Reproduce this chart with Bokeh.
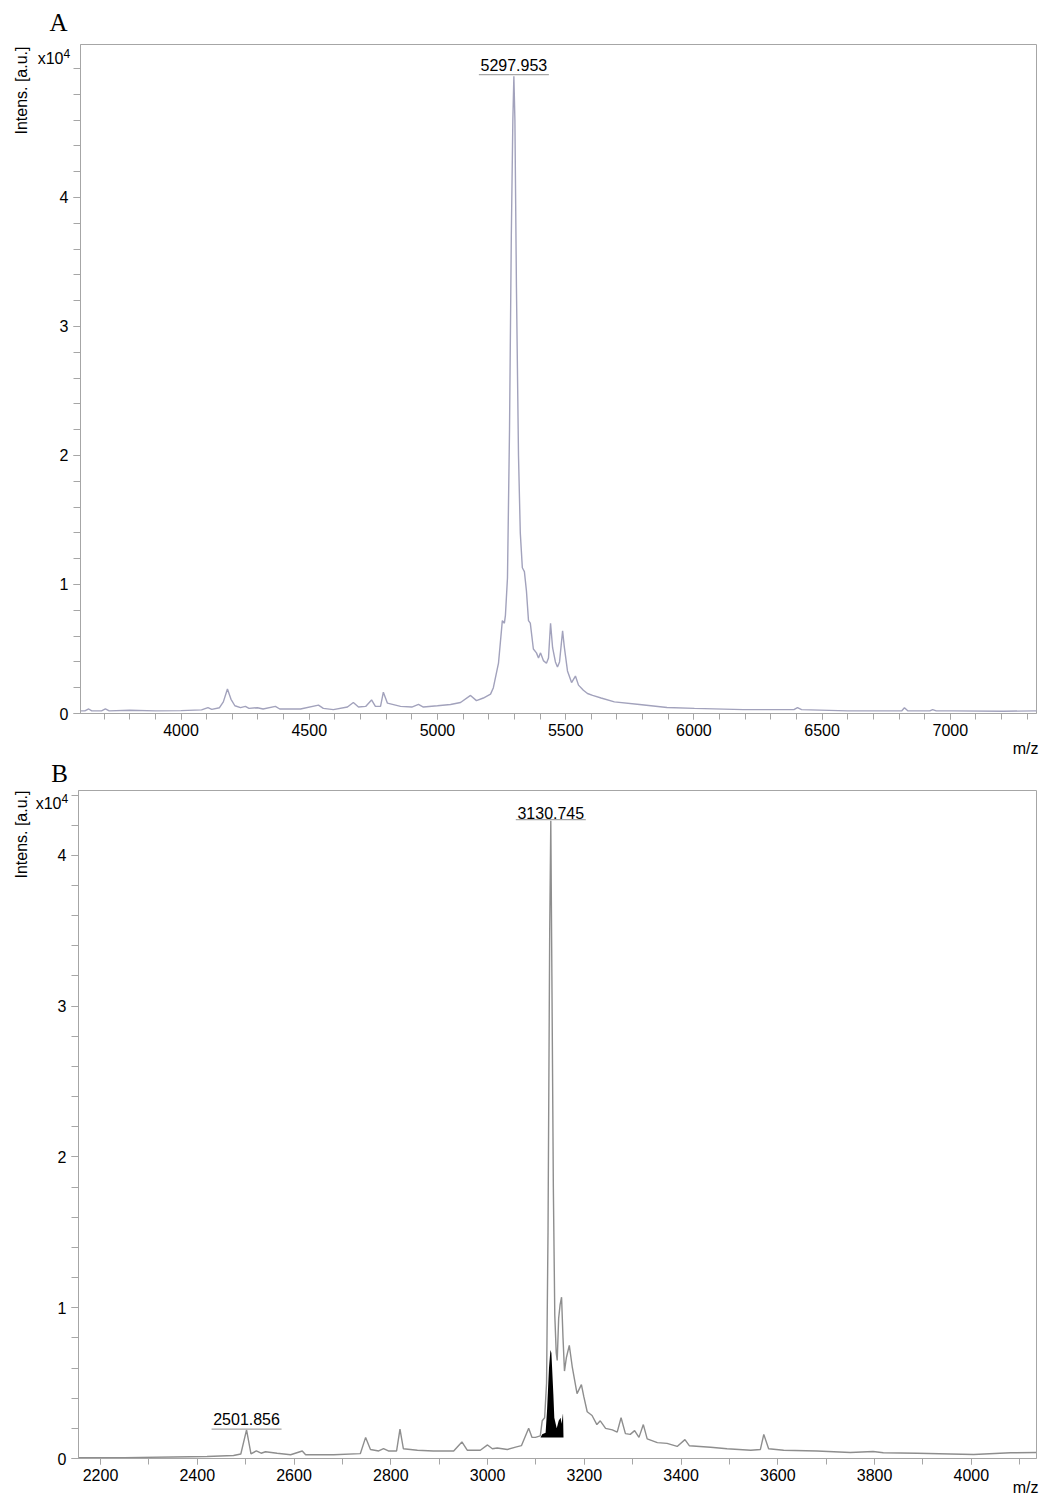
import math
from bokeh.plotting import figure
from bokeh.models import Label, FixedTicker, Range1d, LinearAxis
from bokeh.layouts import column
from bokeh.embed import file_html
from bokeh.resources import INLINE

# ---------------- data: panel A (intensity in units of 1e4) ----------------
a_mz = [3608, 3625, 3640, 3652, 3690, 3705, 3720, 3800, 3900, 4000, 4080, 4105, 4120,
        4150, 4165, 4181, 4195, 4210, 4232, 4251, 4265, 4298, 4320, 4368, 4385, 4466,
        4536, 4555, 4594, 4649, 4672, 4692, 4720, 4743, 4758, 4778, 4789, 4805, 4856,
        4900, 4926, 4945, 5000, 5051, 5090, 5129, 5152, 5179, 5207, 5218, 5238, 5253,
        5261, 5265, 5273, 5281, 5288, 5294, 5297.953, 5302, 5308, 5316, 5323, 5331,
        5339, 5347, 5355, 5362, 5374, 5386, 5394, 5402, 5413, 5425, 5433, 5441, 5449,
        5460, 5468, 5476, 5488, 5495, 5507, 5523, 5538, 5550, 5569, 5585, 5605, 5638,
        5690, 5788, 5895, 6002, 6193, 6390, 6404, 6420, 6599, 6810, 6821, 6835, 6920,
        6931, 6945, 7005, 7207, 7336]
a_int = [0.02, 0.02, 0.035, 0.02, 0.02, 0.035, 0.02, 0.025, 0.02, 0.022, 0.028, 0.045, 0.032,
         0.045, 0.09, 0.19, 0.11, 0.06, 0.045, 0.055, 0.04, 0.045, 0.035, 0.055, 0.035, 0.035,
         0.065, 0.04, 0.03, 0.05, 0.085, 0.05, 0.055, 0.105, 0.055, 0.055, 0.165, 0.08, 0.055,
         0.05, 0.07, 0.05, 0.06, 0.07, 0.085, 0.14, 0.10, 0.12, 0.15, 0.2, 0.39, 0.72,
         0.70, 0.76, 1.05, 2.2, 3.7, 4.6, 4.94, 4.6, 3.3, 2.0, 1.4, 1.13,
         1.1, 0.95, 0.72, 0.70, 0.50, 0.47, 0.43, 0.47, 0.41, 0.39, 0.43, 0.70, 0.51,
         0.40, 0.36, 0.40, 0.64, 0.51, 0.33, 0.24, 0.29, 0.22, 0.18, 0.155, 0.14, 0.12,
         0.09, 0.07, 0.047, 0.04, 0.03, 0.03, 0.045, 0.03, 0.02, 0.02, 0.045, 0.02, 0.02,
         0.03, 0.02, 0.02, 0.018, 0.02]
a_peak_mz = [5297.953]
a_peak_int = [4.94]
a_peak_text = ["5297.953"]
a_x_major = [4000, 4500, 5000, 5500, 6000, 6500, 7000]
a_y_major = [0, 1, 2, 3, 4]

# ---------------- data: panel B ----------------
b_mz = [2155, 2250, 2350, 2420, 2475, 2490, 2501.856, 2511, 2522, 2532, 2541, 2565, 2593,
        2617, 2624, 2682, 2737, 2748, 2758, 2775, 2785, 2795, 2812, 2819, 2826, 2855, 2888,
        2930, 2947, 2958, 2985, 3000, 3010, 3020, 3041, 3058, 3070, 3085, 3092, 3099, 3109,
        3113, 3118, 3122, 3125, 3128.5, 3130.745, 3133, 3136, 3139, 3142, 3144, 3147, 3150,
        3153, 3156, 3159, 3163, 3169, 3175, 3185, 3194, 3199, 3206, 3216, 3226, 3233, 3244,
        3258, 3268, 3276, 3285, 3295, 3304, 3313, 3322, 3330, 3351, 3371, 3392, 3408, 3417,
        3461, 3495, 3544, 3564, 3571, 3581, 3612, 3681, 3750, 3797, 3818, 3888, 3957, 4005,
        4081, 4134]
b_int = [0.005, 0.006, 0.01, 0.013, 0.02, 0.03, 0.19, 0.03, 0.05, 0.035, 0.045, 0.035, 0.025,
         0.05, 0.025, 0.025, 0.032, 0.14, 0.06, 0.05, 0.065, 0.05, 0.05, 0.195, 0.065, 0.055, 0.05,
         0.05, 0.11, 0.055, 0.055, 0.09, 0.065, 0.07, 0.06, 0.075, 0.085, 0.20, 0.14, 0.14, 0.15,
         0.25, 0.27, 0.5, 1.5, 3.5, 4.23, 3.2, 1.8, 0.95, 0.7, 0.65, 0.93, 1.02,
         1.07, 0.8, 0.58, 0.67, 0.75, 0.61, 0.43, 0.49, 0.41, 0.31, 0.285, 0.225, 0.25, 0.2,
         0.19, 0.175, 0.27, 0.165, 0.16, 0.185, 0.14, 0.225, 0.13, 0.105, 0.1, 0.08, 0.125, 0.085,
         0.075, 0.065, 0.055, 0.06, 0.16, 0.065, 0.055, 0.05, 0.04, 0.046, 0.038, 0.035, 0.03, 0.027,
         0.038, 0.04]
# highlighted (black) area of the selected peak
b_fill_mz = [3109.5, 3113, 3120, 3123, 3127, 3130, 3132, 3136, 3138, 3143, 3147, 3151, 3153, 3156, 3157]
b_fill_top = [0.14, 0.16, 0.17, 0.32, 0.6, 0.72, 0.70, 0.43, 0.27, 0.20, 0.25, 0.27, 0.23, 0.30, 0.14]
b_fill_base = 0.14
b_peak_mz = [3130.745, 2501.856]
b_peak_int = [4.23, 0.19]
b_peak_text = ["3130.745", "2501.856"]
b_x_major = [2200, 2400, 2600, 2800, 3000, 3200, 3400, 3600, 3800, 4000]
b_y_major = [0, 1, 2, 3, 4]

FONT = "Liberation Sans"
SERIF = "Liberation Serif"
GRAY = "#a6a6a6"
W = 1041


def make_panel(H, frame_px, xr, yr, x_major, x_minor, y_major, y_minor):
    fl, fr, ft, fb = frame_px
    xppu = (fr - fl) / (xr[1] - xr[0])
    yppu = (fb - ft) / (yr[1] - yr[0])
    xs = xr[0] - fl / xppu
    xe = xr[1] + (W - fr) / xppu
    ys = yr[0] - (H - fb) / yppu
    ye = yr[1] + ft / yppu
    p = figure(width=W, height=H, output_backend="svg", toolbar_location=None,
               x_range=Range1d(xs, xe), y_range=Range1d(ys, ye),
               x_axis_location=None, y_axis_location=None,
               min_border_left=0, min_border_right=0, min_border_top=0, min_border_bottom=0)
    p.background_fill_color = "white"
    p.border_fill_color = "white"
    p.outline_line_color = None
    p.xgrid.visible = False
    p.ygrid.visible = False

    xax = LinearAxis(fixed_location=yr[0], bounds=xr,
                     ticker=FixedTicker(ticks=x_major, minor_ticks=x_minor))
    yax = LinearAxis(fixed_location=xr[0], bounds=yr,
                     ticker=FixedTicker(ticks=y_major, minor_ticks=y_minor))
    for ax in (xax, yax):
        ax.axis_line_color = GRAY
        ax.major_tick_line_color = GRAY
        ax.minor_tick_line_color = GRAY
        ax.major_tick_in = 0
        ax.minor_tick_in = 0
        ax.major_label_text_font = FONT
        ax.major_label_text_font_size = "16px"
        ax.major_label_text_color = "#000000"
    xax.major_tick_out = 6
    xax.minor_tick_out = 6
    yax.major_tick_out = 7
    yax.minor_tick_out = 7
    xax.major_label_standoff = 4
    yax.major_label_standoff = 5
    p.add_layout(xax, "below")
    p.add_layout(yax, "left")

    # plot frame box
    p.quad(left=[xr[0]], right=[xr[1]], bottom=[yr[0]], top=[yr[1]],
           fill_color=None, line_color=GRAY, line_width=1)

    geo = dict(H=H, xppu=xppu, yppu=yppu)
    return p, geo


def txt(p, geo, x, y_page, s, size, font=FONT, align="left", angle=0.0):
    # y_page is the vertical centre of the text, in the panel's pixel rows
    p.add_layout(Label(x=x, y=geo["H"] - y_page, x_units="screen", y_units="screen", text=s,
                       text_font=font, text_font_size=size, text_align=align,
                       text_baseline="middle", angle=angle, text_color="#000000"))


def peak_labels(p, geo, mzs, ints, texts, text_off, ul_off, half_px=35):
    for m, v, t, to, uo in zip(mzs, ints, texts, text_off, ul_off):
        p.add_layout(Label(x=m, y=v + to / geo["yppu"], text=t, text_font=FONT,
                           text_font_size="16px", text_align="center",
                           text_baseline="middle", text_color="#000000"))
        yy = v + uo / geo["yppu"]
        p.segment(x0=[m - half_px / geo["xppu"]], x1=[m + half_px / geo["xppu"]],
                  y0=[yy], y1=[yy], line_color=GRAY, line_width=1.2)


a_x_minor = list(range(3700, 7400, 100))
a_y_minor = [round(0.2 * k, 1) for k in range(0, 26)]
b_x_minor = list(range(2200, 4200, 100))
b_y_minor = [round(0.2 * k, 1) for k in range(0, 23)]

# Panel A (canvas 1041 x 758)
HA = 758
pA, gA = make_panel(HA, (80, 1036, 44, 713), (3608, 7336), (0, 5.186),
                    a_x_major, a_x_minor, a_y_major, a_y_minor)
pA.line(a_mz, a_int, line_color="#a2a2bc", line_width=1.4)
peak_labels(pA, gA, a_peak_mz, a_peak_int, a_peak_text, [11.0], [1.7])
txt(pA, gA, 58, 22, "A", "25px", font=SERIF, align="center")
txt(pA, gA, 21, 46, "Intens. [a.u.]", "16px", align="right", angle=math.pi / 2)
txt(pA, gA, 63, 58, "x10", "16px", align="right")
txt(pA, gA, 63, 53, "4", "12px", align="left")
txt(pA, gA, 1038, 748, "m/z", "16px", align="right")

# Panel B (canvas 1041 x 739, page offset 758)
HB = 739
OB = 758
pB, gB = make_panel(HB, (78, 1036, 32, 700), (2154.5, 4134.7), (0, 4.43),
                    b_x_major, b_x_minor, b_y_major, b_y_minor)
pB.line(b_mz, b_int, line_color="#8e8e8e", line_width=1.4)
pB.varea(x=b_fill_mz, y1=b_fill_base, y2=b_fill_top, fill_color="black")
peak_labels(pB, gB, b_peak_mz, b_peak_int, b_peak_text, [8.0, 10.5], [1.0, 0.7])
txt(pB, gB, 59, 773 - OB, "B", "25px", font=SERIF, align="center")
txt(pB, gB, 21, 790 - OB, "Intens. [a.u.]", "16px", align="right", angle=math.pi / 2)
txt(pB, gB, 61, 803 - OB, "x10", "16px", align="right")
txt(pB, gB, 61, 798 - OB, "4", "12px", align="left")
txt(pB, gB, 1038, 1487 - OB, "m/z", "16px", align="right")

layout = column(pA, pB, spacing=0)
open("out.html", "w").write(file_html(layout, INLINE))
